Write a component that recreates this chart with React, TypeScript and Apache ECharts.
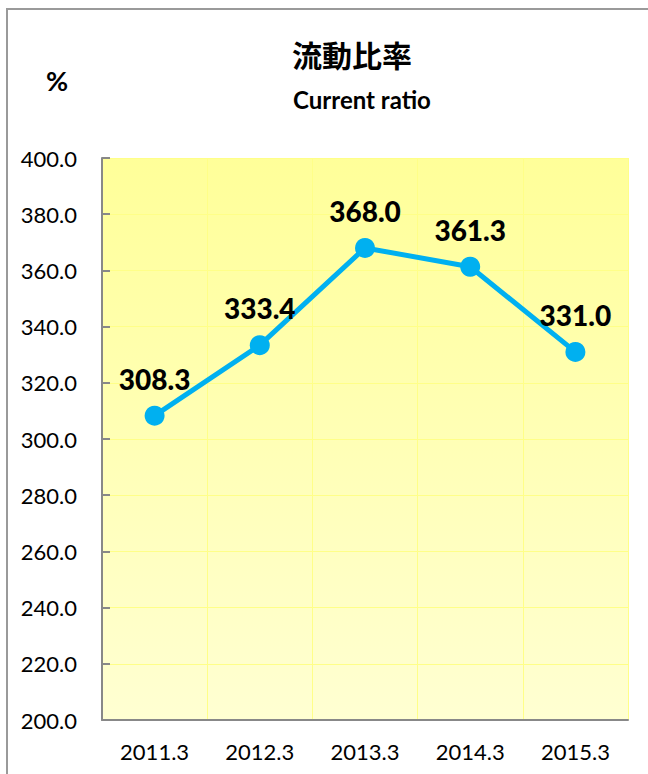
import React, { useEffect, useRef } from "react";
import * as echarts from "echarts";

const categories = ["2011.3", "2012.3", "2013.3", "2014.3", "2015.3"];
const ratioValues = [308.3, 333.4, 368.0, 361.3, 331.0];
const titleJa = "流動比率";
const titleEn = "Current ratio";
const unitLabel = "%";

export default function App() {
  const ref = useRef<HTMLDivElement>(null);
  useEffect(() => {
    if (!ref.current) return;
    const chart = echarts.init(ref.current, undefined, { renderer: "svg" });
    chart.setOption({
      animation: false,
      backgroundColor: "#ffffff",
      textStyle: { fontFamily: "Lato, 'Open Sans', sans-serif" },
      graphic: [
        { type: "line", shape: { x1: 7, y1: 9, x2: 648, y2: 9 }, style: { stroke: "#9a9a9a", lineWidth: 2 } },
        { type: "line", shape: { x1: 7, y1: 8, x2: 7, y2: 774 }, style: { stroke: "#9a9a9a", lineWidth: 2 } },
        {
          type: "text", x: 352, y: 54,
          style: { text: titleJa, fontSize: 30, fontWeight: "bold", fill: "#000", align: "center", verticalAlign: "middle", fontFamily: "'Noto Sans CJK JP', sans-serif" },
        },
        {
          type: "text", x: 362, y: 99,
          style: { text: titleEn, fontSize: 24, fontWeight: "bold", fill: "#000", align: "center", verticalAlign: "middle", fontFamily: "Lato, sans-serif" },
        },
        {
          type: "text", x: 57, y: 80,
          style: { text: unitLabel, fontSize: 27, fontWeight: "bold", fill: "#000", align: "center", verticalAlign: "middle", fontFamily: "Lato, sans-serif" },
        },
      ],
      grid: {
        left: 102, right: 20, top: 158, bottom: 54,
        show: true, borderWidth: 0,
        backgroundColor: new echarts.graphic.LinearGradient(0, 0, 0, 1, [
          { offset: 0, color: "#FFFF99" },
          { offset: 1, color: "#FFFFD2" },
        ]),
      },
      xAxis: {
        type: "category",
        data: categories,
        boundaryGap: true,
        axisLine: { show: true, lineStyle: { color: "#888888", width: 2 } },
        axisTick: { show: false },
        axisLabel: { color: "#000", fontSize: 22, margin: 20, fontFamily: "Lato, sans-serif" },
        splitLine: { show: true, lineStyle: { color: "#FFFF88", width: 1 } },
      },
      yAxis: {
        type: "value",
        min: 200, max: 400, interval: 20,
        axisLine: { show: true, lineStyle: { color: "#888888", width: 2 } },
        axisTick: { show: true, inside: true, length: 8, lineStyle: { color: "#888888", width: 2 } },
        axisLabel: { color: "#000", fontSize: 22, margin: 25, formatter: (v: number) => v.toFixed(1), fontFamily: "Lato, sans-serif" },
        splitLine: { show: true, lineStyle: { color: "#FFFF88", width: 1 } },
      },
      series: [
        {
          type: "line",
          data: ratioValues,
          lineStyle: { color: "#00B0F0", width: 5 },
          itemStyle: { color: "#00B0F0" },
          symbol: "circle",
          symbolSize: 20,
          label: {
            show: true, position: "top", distance: 13,
            formatter: (p: any) => Number(p.value).toFixed(1),
            color: "#000", fontSize: 28, fontWeight: 900, fontFamily: "Lato, sans-serif",
          },
        },
      ],
    });
    return () => chart.dispose();
  }, []);
  return <div ref={ref} style={{ position: "absolute", left: 0, top: 0, width: 648, height: 774 }} />;
}
